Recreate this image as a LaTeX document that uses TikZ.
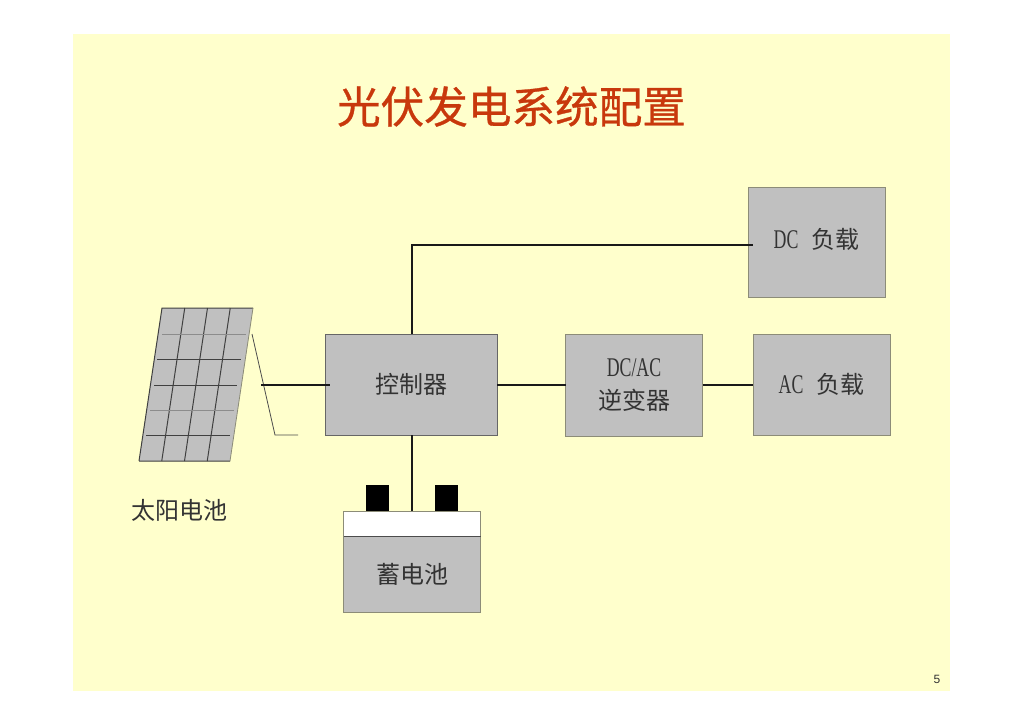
\documentclass[tikz,border=0pt]{standalone}
\usepackage{fontspec}
\usetikzlibrary{calc}
\setmainfont{Liberation Serif}
\setsansfont{Liberation Sans}
\newfontfamily\cjk{Noto Sans CJK SC}
\newfontfamily\cjktitle[FakeBold=0.7]{Noto Sans CJK SC}
\newfontfamily\narrow[FakeStretch=0.66]{Liberation Serif}
\definecolor{pagebg}{HTML}{FFFFCC}
\definecolor{boxfill}{HTML}{C0C0C0}
\definecolor{boxline}{HTML}{8C8C78}
\definecolor{titlered}{HTML}{C8380C}
\newcommand{\lat}[1]{{\fontsize{27}{33}\selectfont\narrow #1}}
\tikzset{
  gbox/.style={draw=boxline,line width=1pt,fill=boxfill,inner sep=0pt,outer sep=0pt,align=center,
    font=\fontsize{24}{33}\selectfont\cjk,text=black!80},
  wire/.style={draw=black!90,line width=2pt},
  grid line/.style={draw=black!75,line width=1pt},
  terminal/.style={fill=black,inner sep=0pt,outer sep=0pt,minimum width=23pt,minimum height=26pt},
}
\begin{document}
\begin{tikzpicture}[x=1pt,y=-1pt]
\useasboundingbox (0,0) rectangle (1024,724);
\fill[white] (0,0) rectangle (1024,724);
\fill[pagebg] (73,34) rectangle (950,691);
\node[font=\fontsize{43.6}{50}\selectfont\cjktitle,text=titlered,inner sep=0pt] (title) at (511.5,106.5) {光伏发电系统配置};
% solar panel
\coordinate (pa) at (162,308);
\coordinate (pb) at (253,308);
\coordinate (pc) at (230,461);
\coordinate (pd) at (139,461);
\fill[boxfill] (pa) -- (pb) -- (pc) -- (pd) -- cycle;
\draw[grid line] (pd) -- (pa) -- (pb) (pd) -- (pc);
\draw[boxline,line width=0.8pt] (pb) -- (pc);
\foreach \t in {0.25,0.5,0.75}
  \draw[grid line] ($(pa)!\t!(pb)$) -- ($(pd)!\t!(pc)$);
\draw[grid line,black!45] (162,334) -- (246,334);
\draw[grid line] (157,359) -- (241,359);
\draw[grid line] (154,385) -- (237,385);
\draw[grid line,black!45] (150,410) -- (234,410);
\draw[grid line] (146,435) -- (230,435);
% bracket
\coordinate (za) at (252,334);
\coordinate (zb) at (275,435);
\coordinate (zc) at (298,435);
\draw[black!70,line width=0.8pt] (za) -- (zb) -- (zc);
\node[font=\fontsize{24}{30}\selectfont\cjk,text=black!80,inner sep=0pt] (solar) at (179.5,510) {太阳电池};
% boxes
\node[gbox,minimum width=172pt,minimum height=101pt,draw=black!60] (ctrl) at (411,384.5) {\raisebox{1pt}{控制器}};
\node[gbox,minimum width=137pt,minimum height=102pt] (inv) at (634,385) {\lat{DC/AC}\\逆变器};
\node[gbox,minimum width=137pt,minimum height=110pt] (dc) at (816.5,242) {\raisebox{7pt}{\lat{DC}\hspace{13pt}负载}};
\node[gbox,minimum width=137pt,minimum height=101pt] (ac) at (821.5,384.5) {\raisebox{1pt}{\lat{AC}\hspace{13pt}负载}};
% battery
\node[terminal] (t1) at (377.5,498) {};
\node[terminal] (t2) at (446,498) {};
\node[draw=boxline,line width=1pt,fill=white,minimum width=137pt,minimum height=25pt,inner sep=0pt,outer sep=0pt] (cap) at (412,523.5) {};
\node[gbox,minimum width=137pt,minimum height=76.5pt] (bat) at (412,574.5) {\raisebox{1pt}{蓄电池}};
\draw[black!70,line width=1pt] (cap.south west) -- (cap.south east);
% connectors
\coordinate (pin) at (261,385);
\coordinate (ctrlin) at ([xshift=5pt]ctrl.west);
\coordinate (ctrltop) at ([xshift=0.5pt]ctrl.north);
\coordinate (ctrlbot) at ([xshift=0.5pt]ctrl.south);
\coordinate (dcin) at ([xshift=5pt]dc.west);
\draw[wire] (pin) -- (pin -| ctrlin);
\draw[wire] ([yshift=0pt]ctrl.east) -- (ctrl.east -| inv.west);
\draw[wire] (inv.east |- ac.west) -- (ac.west);
\draw[wire] (ctrlbot) -- (ctrlbot |- cap.north);
\coordinate (bend) at (ctrltop |- 0,245);
\draw[wire] (ctrltop) -- (bend) -- (bend -| dcin);
\node[font=\fontsize{12}{14}\selectfont\sffamily,text=black!80,inner sep=0pt] (pageno) at (937,679) {5};
\end{tikzpicture}
\end{document}
